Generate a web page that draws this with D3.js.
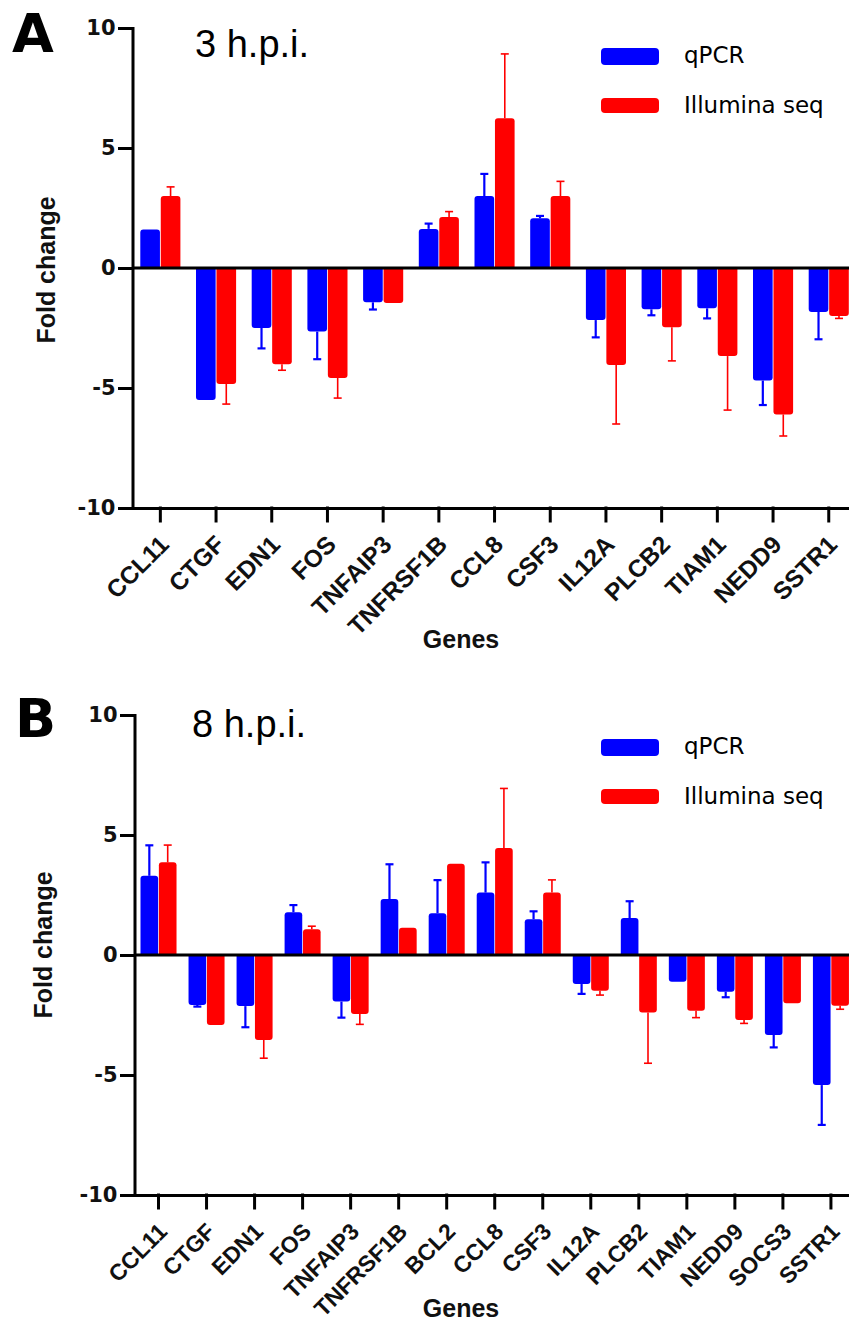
<!DOCTYPE html>
<html>
<head>
    <meta charset="utf-8">
    <style>
        body {
            margin: 0;
            background: #fff;
        }
        svg {
            display: block;
            font-family: 'DejaVu Sans', sans-serif;
        }
        .axis .domain, .axis .tick line {
            stroke: #000;
            stroke-width: 3;
            stroke-linecap: square;
        }
        .axis-label {
            font-family: 'Liberation Sans', Arial, sans-serif;
            font-size: 25px;
            font-weight: bold;
            fill: #111;
        }
        .panel-letter {
            font-size: 54px;
            font-weight: bold;
        }
        .panel-title {
            font-family: 'Liberation Sans', Arial, sans-serif;
            font-size: 38px;
        }
        .legend {
            font-size: 23px;
        }
    </style>
</head>
<body>
<svg width="849" height="1323"></svg>

<script src="https://d3js.org/d3.v7.min.js"></script>
<script>
    // panel A, 3 h.p.i.
    let genesA = ["CCL11", "CTGF", "EDN1", "FOS", "TNFAIP3", "TNFRSF1B", "CCL8", "CSF3", "IL12A", "PLCB2", "TIAM1", "NEDD9", "SSTR1"]
    let qpcrA = [1.6, -5.5, -2.5, -2.65, -1.43, 1.63, 3.0, 2.07, -2.17, -1.72, -1.68, -4.69, -1.83]
    let qpcrErrA = [0, 0, 0.85, 1.15, 0.3, 0.22, 0.92, 0.1, 0.72, 0.25, 0.42, 1.02, 1.14]
    let illuminaA = [3.0, -4.83, -4.01, -4.58, -1.46, 2.13, 6.24, 3.0, -4.04, -2.47, -3.67, -6.1, -2.0]
    let illuminaErrA = [0.38, 0.84, 0.25, 0.84, 0, 0.22, 2.68, 0.61, 2.46, 1.4, 2.25, 0.9, 0.1]

    // panel B, 8 h.p.i.
    let genesB = ["CCL11", "CTGF", "EDN1", "FOS", "TNFAIP3", "TNFRSF1B", "BCL2", "CCL8", "CSF3", "IL12A", "PLCB2", "TIAM1", "NEDD9", "SOCS3", "SSTR1"]
    let qpcrB = [3.3, -2.08, -2.13, 1.78, -1.94, 2.33, 1.74, 2.6, 1.49, -1.21, 1.54, -1.11, -1.53, -3.33, -5.42]
    let qpcrErrB = [1.27, 0.07, 0.88, 0.3, 0.67, 1.45, 1.38, 1.26, 0.33, 0.41, 0.7, 0, 0.23, 0.52, 1.66]
    let illuminaB = [3.86, -2.92, -3.54, 1.07, -2.46, 1.14, 3.8, 4.46, 2.6, -1.49, -2.4, -2.32, -2.71, -2.01, -2.11]
    let illuminaErrB = [0.72, 0, 0.76, 0.13, 0.43, 0, 0, 2.48, 0.53, 0.18, 2.11, 0.29, 0.14, 0, 0.15]

    let seriesNames = ["qPCR", "Illumina seq"]
    let seriesColors = ["#0000ff", "#ff0000"]
    let yTicks = [-10, -5, 0, 5, 10]

    let svg = d3.select("svg")

    let color = d3.scaleOrdinal()
        .domain(seriesNames)
        .range(seriesColors)

    // bar with rounded far end only
    function barPath(x, w, y0, y1, r) {
        let dir = y1 < y0 ? -1 : 1
        let p = d3.path()
        p.moveTo(x, y0)
        p.lineTo(x, y1 - dir * r)
        p.quadraticCurveTo(x, y1, x + r, y1)
        p.lineTo(x + w - r, y1)
        p.quadraticCurveTo(x + w, y1, x + w, y1 - dir * r)
        p.lineTo(x + w, y0)
        p.closePath()
        return p.toString()
    }

    function drawPanel(cfg) {
        let g = svg.append("g")

        let data = cfg.genes.map((gene, i) => ({
            gene: gene,
            values: [
                {key: "qPCR", value: cfg.qpcr[i], err: cfg.qpcrErr[i]},
                {key: "Illumina seq", value: cfg.illumina[i], err: cfg.illuminaErr[i]}
            ]
        }))

        let x0 = d3.scaleBand()
            .domain(cfg.genes)
            .range([cfg.left, cfg.left + cfg.genes.length * cfg.step])
            .paddingInner(cfg.pad)
            .paddingOuter(cfg.pad / 2)

        let x1 = d3.scaleBand()
            .domain(seriesNames)
            .range([0, x0.bandwidth()])
            .paddingInner(0.04)

        let y = d3.scaleLinear()
            .domain([-10, 10])
            .range([cfg.bottom, cfg.top])

        // bars
        let groups = g.append("g")
            .selectAll("g")
            .data(data)
            .join("g")
            .attr("transform", d => `translate(${x0(d.gene)},0)`)

        groups.selectAll("path.bar")
            .data(d => d.values)
            .join("path")
            .attr("class", "bar")
            .attr("fill", d => color(d.key))
            .attr("d", d => barPath(x1(d.key), x1.bandwidth(), y(0), y(d.value), 3))

        // error bars, one sided away from zero
        let errs = groups.selectAll("g.err")
            .data(d => d.values.filter(v => v.err > 0))
            .join("g")
            .attr("class", "err")
            .attr("stroke", d => color(d.key))
            .attr("stroke-width", d => d.key == "qPCR" ? 2.2 : 1.6)

        errs.append("line")
            .attr("x1", d => x1(d.key) + x1.bandwidth() / 2)
            .attr("x2", d => x1(d.key) + x1.bandwidth() / 2)
            .attr("y1", d => y(d.value))
            .attr("y2", d => y(d.value + Math.sign(d.value) * d.err))

        errs.append("line")
            .attr("x1", d => x1(d.key) + x1.bandwidth() / 2 - 4)
            .attr("x2", d => x1(d.key) + x1.bandwidth() / 2 + 4)
            .attr("y1", d => y(d.value + Math.sign(d.value) * d.err))
            .attr("y2", d => y(d.value + Math.sign(d.value) * d.err))

        // zero line
        g.append("line")
            .attr("x1", x0.range()[0])
            .attr("x2", 849)
            .attr("y1", y(0))
            .attr("y2", y(0))
            .attr("stroke", "#000")
            .attr("stroke-width", 3)

        // axes
        let yAxis = g.append("g")
            .attr("class", "y axis")
            .attr("transform", `translate(${x0.range()[0]},0)`)
            .call(d3.axisLeft(y)
                .tickValues(yTicks)
                .tickFormat(d => String(d))
                .tickSize(13)
                .tickSizeOuter(0)
                .tickPadding(4))

        yAxis.selectAll(".tick text")
            .style("font-family", "'DejaVu Sans', sans-serif")
            .style("font-size", "21px")
            .style("font-weight", "bold")
            .attr("fill", "#111")

        let xAxis = g.append("g")
            .attr("class", "x axis")
            .attr("transform", `translate(0,${y(-10)})`)
            .call(d3.axisBottom(x0)
                .tickSize(13)
                .tickSizeOuter(0))

        xAxis.selectAll(".tick text")
            .style("font-family", "'Liberation Sans', Arial, sans-serif")
            .style("font-size", cfg.labelSize)
            .style("font-weight", "bold")
            .attr("fill", "#111")
            .attr("x", 0)
            .attr("y", 0)
            .attr("dy", 0)
            .attr("text-anchor", "end")
            .attr("transform", `translate(10,38) rotate(-45)`)

        g.append("text")
            .attr("class", "axis-label")
            .attr("x", 461)
            .attr("y", cfg.genesY)
            .attr("text-anchor", "middle")
            .text("Genes")

        g.append("text")
            .attr("class", "axis-label")
            .attr("text-anchor", "middle")
            .attr("transform", `translate(${cfg.foldX},${cfg.foldY}) rotate(-90)`)
            .text("Fold change")

        g.append("text")
            .attr("class", "panel-letter")
            .attr("x", cfg.letterX)
            .attr("y", cfg.letterY)
            .text(cfg.letter)

        g.append("text")
            .attr("class", "panel-title")
            .attr("x", cfg.titleX)
            .attr("y", cfg.titleY)
            .text(cfg.title)

        // legend
        let legend = g.append("g")
            .attr("transform", `translate(601,${cfg.legendY})`)

        legend.selectAll("rect")
            .data(seriesNames)
            .join("rect")
            .attr("x", 0)
            .attr("y", (d, i) => i * 50)
            .attr("width", 58)
            .attr("height", (d, i) => i == 0 ? 17 : 15)
            .attr("rx", 4)
            .attr("fill", d => color(d))

        legend.selectAll("text")
            .data(seriesNames)
            .join("text")
            .attr("class", "legend")
            .attr("x", 83)
            .attr("y", (d, i) => 15 + i * 50)
            .text(d => d)
    }

    drawPanel({
        genes: genesA, qpcr: qpcrA, qpcrErr: qpcrErrA, illumina: illuminaA, illuminaErr: illuminaErrA,
        left: 132.5, step: 55.7, pad: 0.28, top: 28, bottom: 508,
        labelSize: "24.5px", genesY: 648, foldX: 55, foldY: 270,
        letter: "A", letterX: 12, letterY: 52,
        title: "3 h.p.i.", titleX: 195, titleY: 57,
        legendY: 48
    })

    drawPanel({
        genes: genesB, qpcr: qpcrB, qpcrErr: qpcrErrB, illumina: illuminaB, illuminaErr: illuminaErrB,
        left: 134.5, step: 48.03, pad: 0.25, top: 715, bottom: 1195,
        labelSize: "23px", genesY: 1317, foldX: 52, foldY: 945,
        letter: "B", letterX: 15, letterY: 737,
        title: "8 h.p.i.", titleX: 192, titleY: 737,
        legendY: 739
    })
</script>
</body>
</html>
